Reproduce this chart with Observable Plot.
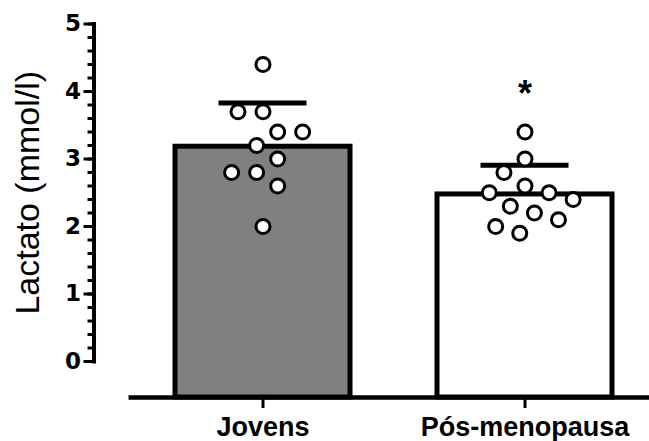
<!DOCTYPE html>
<html><head><meta charset="utf-8">
<script src="https://cdn.jsdelivr.net/npm/d3@7"></script>
<script src="https://cdn.jsdelivr.net/npm/@observablehq/plot@0.6"></script>
<style>
body{margin:0;background:#fff;}
svg{font-family:"Liberation Sans",Arial,sans-serif;}
</style>
</head><body><div id="chart"></div>
<script>
// ---- data ----
const groups = ["Jovens", "Pós-menopausa"];
const jovens = [4.4, 3.7, 3.7, 3.4, 3.4, 3.2, 3.0, 2.8, 2.8, 2.6, 2.0];
const posMenopausa = [3.4, 3.0, 2.8, 2.6, 2.5, 2.5, 2.4, 2.3, 2.2, 2.1, 2.0, 1.9];
const fills = ["#808080", "#ffffff"];
const significance = ["", "*"];
const yTicks = [0, 1, 2, 3, 4, 5];
const yLabel = "Lactato (mmol/l)";

// ---- derived tables ----
const values = [jovens, posMenopausa];
const points = groups.flatMap((g, i) => values[i].map(v => ({group: g, value: v})));
const summary = groups.map((g, i) => {
  const mean = d3.mean(values[i]);
  const sd = d3.deviation(values[i]);
  return {group: g, mean, upper: mean + sd, max: d3.max(values[i]), fill: fills[i], sig: significance[i]};
});
const minorTicks = d3.range(0, 5.0001, 0.2);

// ---- layout ----
const width = 649, height = 441;
const marginTop = 23.5, marginBottom = 44, marginLeft = 93, marginRight = 0;
const yMin = -0.533, yMax = 5;
const pxPerUnit = (height - marginTop - marginBottom) / (yMax - yMin);
const belowZero = (0 - yMin) * pxPerUnit;
const fxOpts = {paddingInner: 0.332, paddingOuter: 0.227, align: 0.685};
const fxBand = d3.scaleBand(groups, [marginLeft, width - marginRight])
  .paddingInner(fxOpts.paddingInner).paddingOuter(fxOpts.paddingOuter).align(fxOpts.align);
const leftOffset = fxBand(groups[0]) - marginLeft;              // facet frame left vs plot frame left
const rightExtent = (width - marginRight) - (fxBand(groups[0]) + fxBand.bandwidth());
const axisGap = 35; // x-axis line starts this far right of the y-axis line

const chart = Plot.plot({
  width, height, marginTop, marginBottom, marginLeft, marginRight,
  style: {fontFamily: "'Liberation Sans', Arial, sans-serif", color: "black", background: "white", overflow: "visible"},
  y: {domain: [yMin, yMax], axis: null},
  fx: {domain: groups, ...fxOpts, axis: null},
  color: {type: "identity"},
  marks: [
    Plot.barY(summary, {fx: "group", y1: yMin, y2: "mean", fill: "fill", stroke: "black", strokeWidth: 5}),
    Plot.ruleX(summary, {fx: "group", y1: "mean", y2: "upper", stroke: "black", strokeWidth: 5}),
    Plot.tickY(summary, {fx: "group", y: "upper", stroke: "black", strokeWidth: 5, insetLeft: 43.5, insetRight: 43.5}),
    Plot.dot(points, Plot.dodgeX({anchor: "middle", padding: 11}, {fx: "group", y: "value", r: 7, fill: "white", stroke: "black", strokeWidth: 3})),
    Plot.text(summary, {fx: "group", y: "max", text: "sig", dy: -38, fontSize: 36, fontWeight: "bold", fill: "black"}),
    // axes (drawn once, from the leftmost facet)
    Plot.ruleY([yMin], {facetAnchor: "left", insetLeft: axisGap - leftOffset, insetRight: -rightExtent, stroke: "black", strokeWidth: 4.5}),
    Plot.frame({anchor: "left", facetAnchor: "left", dx: -leftOffset, insetBottom: belowZero, stroke: "black", strokeWidth: 4, strokeLinecap: "square"}),
    Plot.axisY(minorTicks, {anchor: "left", facetAnchor: "left", dx: -leftOffset, tickSize: 6, tickFormat: () => "", strokeWidth: 3, label: null}),
    Plot.axisY(yTicks, {anchor: "left", facetAnchor: "left", dx: -leftOffset, tickSize: 10, tickPadding: 3, tickFormat: d3.format("d"), fontSize: 23, fontWeight: "bold", fontFamily: "'DejaVu Sans', sans-serif", strokeWidth: 3, label: null}),
    Plot.axisFx({anchor: "bottom", tickSize: 11, tickPadding: 8, fontSize: 27, fontWeight: "bold", strokeWidth: 3, label: null}),
    Plot.text([{label: yLabel, y: (yTicks[0] + yTicks[yTicks.length - 1]) / 2}], {facetAnchor: "left", frameAnchor: "left", y: "y", text: "label", rotate: -90, textAnchor: "middle", lineAnchor: "middle", dx: -66 - leftOffset, fontSize: 34, fill: "black"})
  ]
});
document.getElementById("chart").appendChild(chart);
</script>
</body></html>
